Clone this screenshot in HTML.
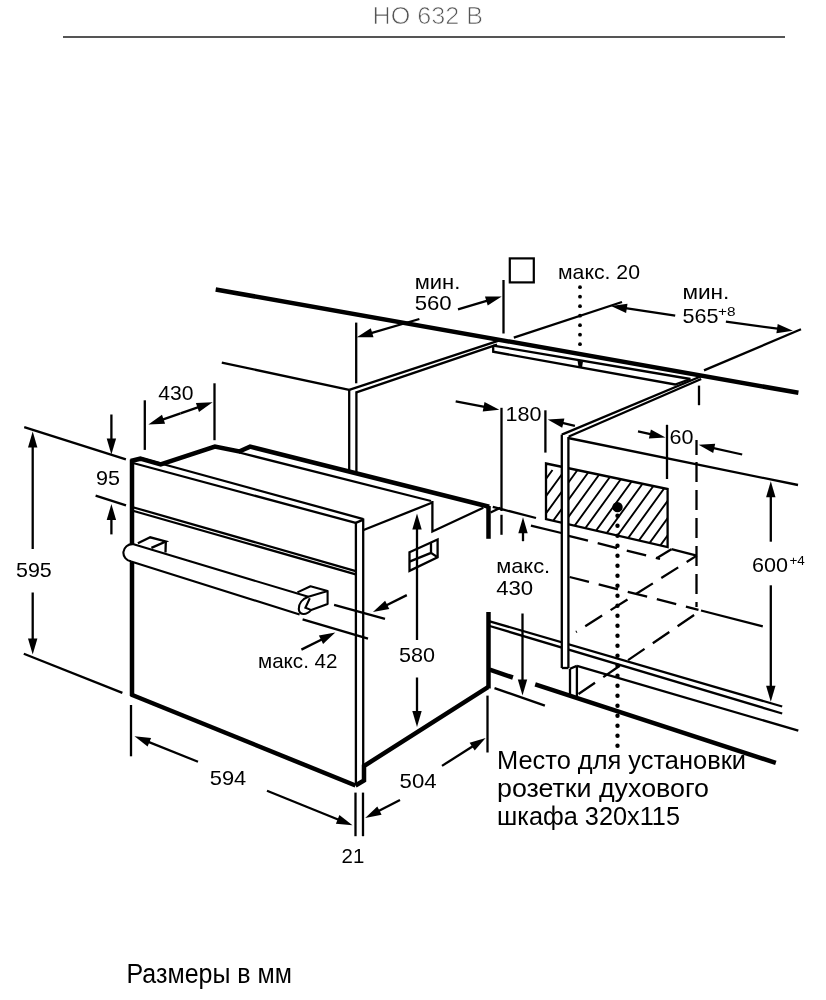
<!DOCTYPE html>
<html><head><meta charset="utf-8"><style>
html,body{margin:0;padding:0;background:#fff;}
svg{display:block;will-change:transform;}
text{font-family:"Liberation Sans",sans-serif;}
</style></head><body>
<svg width="826" height="1000" viewBox="0 0 826 1000">
<rect width="826" height="1000" fill="#fff"/>
<text x="372.5" y="23.6" font-size="23" fill="#555" textLength="110.5" lengthAdjust="spacingAndGlyphs" stroke="#fff" stroke-width="0.7">HO 632 B</text>
<line x1="63" y1="37" x2="785" y2="37" stroke="#555" stroke-width="2" />
<line x1="215.7" y1="289.5" x2="798.4" y2="392.8" stroke="#000" stroke-width="4.5" />
<line x1="513.8" y1="337.6" x2="622" y2="302" stroke="#000" stroke-width="2.3" />
<line x1="704" y1="370.4" x2="801" y2="329.3" stroke="#000" stroke-width="2.3" />
<line x1="356.2" y1="322.6" x2="356.2" y2="383.3" stroke="#000" stroke-width="2.3" />
<line x1="503.5" y1="280" x2="503.5" y2="333.5" stroke="#000" stroke-width="2.3" />
<line x1="419.4" y1="319" x2="366.01434969296497" y2="334.60634825269557" stroke="#000" stroke-width="2.3" />
<polygon points="356.8,337.3 370.8,328.3 373.5,337.3" fill="#000"/>
<line x1="458" y1="309.3" x2="492.48707557842044" y2="299.19852248503935" stroke="#000" stroke-width="2.3" />
<polygon points="501.7,296.5 487.7,305.5 485.0,296.5" fill="#000"/>
<text x="414.7" y="288.7" font-size="21" fill="#000" textLength="45.6" lengthAdjust="spacingAndGlyphs" >мин.</text>
<text x="414.7" y="310" font-size="21" fill="#000" textLength="37.0" lengthAdjust="spacingAndGlyphs" >560</text>
<rect x="509.8" y="258.4" width="24" height="24" fill="none" stroke="#000" stroke-width="2.2"/>
<text x="558.0" y="278.5" font-size="21" fill="#000" textLength="82.0" lengthAdjust="spacingAndGlyphs" >макс. 20</text>
<circle cx="580" cy="287.2" r="1.9" fill="#000"/>
<circle cx="580" cy="296.7" r="1.9" fill="#000"/>
<circle cx="580" cy="306.2" r="1.9" fill="#000"/>
<circle cx="580" cy="315.7" r="1.9" fill="#000"/>
<circle cx="580" cy="325.2" r="1.9" fill="#000"/>
<circle cx="580" cy="334.7" r="1.9" fill="#000"/>
<circle cx="580" cy="344.2" r="1.9" fill="#000"/>
<polygon points="577.5,360.5 583,361.5 582,367.5 578.5,367" fill="#000"/>
<line x1="675.2" y1="315.7" x2="620.4922652802743" y2="307.43418961399783" stroke="#000" stroke-width="2.3" />
<polygon points="611.0,306.0 627.5,303.7 626.1,313.0" fill="#000"/>
<line x1="725.9" y1="321.7" x2="783.385456945261" y2="329.4219270523485" stroke="#000" stroke-width="2.3" />
<polygon points="792.9,330.7 776.4,333.2 777.7,323.9" fill="#000"/>
<text x="682.4" y="299.2" font-size="21" fill="#000" textLength="47.0" lengthAdjust="spacingAndGlyphs" >мин.</text>
<text x="682.4" y="322.5" font-size="21" fill="#000" textLength="36.0" lengthAdjust="spacingAndGlyphs" >565</text>
<text x="718" y="315.7" font-size="13" fill="#000" textLength="17.5" lengthAdjust="spacingAndGlyphs" >+8</text>
<polyline points="493.2,345.6 493.2,351.7 675.1,384.5 690.4,379" fill="none" stroke="#000" stroke-width="2.3" stroke-linejoin="miter" />
<line x1="493.2" y1="345.6" x2="690.4" y2="379" stroke="#000" stroke-width="2.3" />
<line x1="221.8" y1="362.6" x2="349.2" y2="389.9" stroke="#000" stroke-width="2.3" />
<line x1="349.2" y1="389.9" x2="499.5" y2="340.4" stroke="#000" stroke-width="2.3" />
<line x1="356.4" y1="392.4" x2="497" y2="344.6" stroke="#000" stroke-width="2.3" />
<line x1="349.2" y1="389.9" x2="349.2" y2="472" stroke="#000" stroke-width="2.3" />
<line x1="356.4" y1="391.3" x2="356.4" y2="472" stroke="#000" stroke-width="2.3" />
<line x1="144.8" y1="400.3" x2="144.8" y2="449.9" stroke="#000" stroke-width="2.3" />
<line x1="214.5" y1="383.3" x2="214.5" y2="440.2" stroke="#000" stroke-width="2.3" />
<line x1="180.5" y1="413.3" x2="157.46411750074967" y2="421.3374418688973" stroke="#000" stroke-width="2.3" />
<polygon points="148.4,424.5 162.0,414.8 165.1,423.7" fill="#000"/>
<line x1="180.5" y1="413.3" x2="203.527126052889" y2="405.3373489349823" stroke="#000" stroke-width="2.3" />
<polygon points="212.6,402.2 199.0,411.9 195.9,403.0" fill="#000"/>
<text x="158.3" y="400.3" font-size="21" fill="#000" textLength="35.2" lengthAdjust="spacingAndGlyphs" >430</text>
<line x1="111.4" y1="414.5" x2="111.4" y2="444.9" stroke="#000" stroke-width="2.3" />
<polygon points="111.4,454.5 106.7,438.5 116.1,438.5" fill="#000"/>
<line x1="24.2" y1="427.1" x2="125.9" y2="459.3" stroke="#000" stroke-width="2.3" />
<text x="95.9" y="484.7" font-size="21" fill="#000" textLength="24.0" lengthAdjust="spacingAndGlyphs" >95</text>
<line x1="95.6" y1="495.6" x2="126" y2="505.3" stroke="#000" stroke-width="2.3" />
<line x1="111.4" y1="534.4" x2="111.4" y2="513.6" stroke="#000" stroke-width="2.3" />
<polygon points="111.4,504.0 116.1,520.0 106.7,520.0" fill="#000"/>
<line x1="32.7" y1="549" x2="32.7" y2="441.1" stroke="#000" stroke-width="2.3" />
<polygon points="32.7,431.5 37.4,447.5 28.0,447.5" fill="#000"/>
<text x="16.0" y="576.7" font-size="21" fill="#000" textLength="35.8" lengthAdjust="spacingAndGlyphs" >595</text>
<line x1="32.7" y1="592.5" x2="32.7" y2="644.9" stroke="#000" stroke-width="2.3" />
<polygon points="32.7,654.5 28.0,638.5 37.4,638.5" fill="#000"/>
<line x1="23.8" y1="653.8" x2="122.4" y2="692.9" stroke="#000" stroke-width="2.3" />
<polyline points="130.7,461 140.3,458.7 160.7,464.5 214.9,446.5 239.2,451.5 250.1,446.6 489.2,506.8" fill="none" stroke="#000" stroke-width="4.5" stroke-linejoin="miter" />
<line x1="132" y1="459.5" x2="132" y2="696" stroke="#000" stroke-width="4.5" />
<line x1="131" y1="694.5" x2="355.5" y2="785.5" stroke="#000" stroke-width="4.5" />
<polyline points="355.5,785.5 364,780.5 364,766 488,687.2" fill="none" stroke="#000" stroke-width="4.5" stroke-linejoin="miter" />
<line x1="488.5" y1="506" x2="488.5" y2="538.8" stroke="#000" stroke-width="4.5" />
<line x1="488.5" y1="612" x2="488.5" y2="688.5" stroke="#000" stroke-width="4.5" />
<line x1="140.7" y1="458" x2="363.4" y2="519.1" stroke="#000" stroke-width="2.3" />
<line x1="133" y1="463" x2="355.7" y2="522.9" stroke="#000" stroke-width="2.3" />
<line x1="355.7" y1="522.9" x2="363.4" y2="519.6" stroke="#000" stroke-width="2.3" />
<line x1="239.2" y1="452.5" x2="431" y2="501" stroke="#000" stroke-width="2.3" />
<polyline points="432.4,501 432.4,531.5 483.3,507.8" fill="none" stroke="#000" stroke-width="2.3" stroke-linejoin="miter" />
<line x1="490.5" y1="512.5" x2="500.5" y2="507.8" stroke="#000" stroke-width="2.3" />
<line x1="363.6" y1="530" x2="432.4" y2="502.5" stroke="#000" stroke-width="2.3" />
<line x1="355.9" y1="522" x2="355.9" y2="784" stroke="#000" stroke-width="2.3" />
<line x1="363.2" y1="518.5" x2="363.2" y2="778" stroke="#000" stroke-width="2.3" />
<line x1="132" y1="507" x2="356.6" y2="571.3" stroke="#000" stroke-width="2.3" />
<line x1="132" y1="510.5" x2="356.6" y2="574.6" stroke="#000" stroke-width="2.3" />
<path d="M132.8,544.1 L308.3,596.8 L299.6,614.6 L131.1,561.4 A9,8.7 0 0 1 132.8,544.1 Z" fill="#fff" stroke="none"/>
<path d="M132.8,544.1 L308.3,596.8 M131.1,561.4 L299.6,614.6 M132.8,544.1 A9,8.7 0 0 0 131.1,561.4" fill="none" stroke="#000" stroke-width="2.1"/>
<polyline points="137.9,543.2 150.2,537.3 165.8,541.5 151.4,547.9" fill="none" stroke="#000" stroke-width="2.3" stroke-linejoin="miter" />
<line x1="165.8" y1="541.5" x2="165.5" y2="552.5" stroke="#000" stroke-width="2.3" />
<path d="M297.4,592.4 L310.5,586.3 L327.6,591 L327.6,604 L311.2,609.9 C306,616 299,615 298.8,609 C298.6,604 302,599 308.3,596.8 L327.6,591" fill="#fff" stroke="#000" stroke-width="2.1" stroke-linejoin="round"/>
<path d="M309.8,598.2 L305.4,607.7 L310.8,609.9" fill="none" stroke="#000" stroke-width="2.1"/>
<polygon points="409.5,552.3 437.6,539.5 437.6,557.2 409.5,570.8" fill="none" stroke="#000" stroke-width="2.3" stroke-linejoin="miter" />
<polyline points="409.5,561.6 431,552.9 431,543.1" fill="none" stroke="#000" stroke-width="2.3" stroke-linejoin="miter" />
<line x1="431" y1="552.9" x2="437.6" y2="557.2" stroke="#000" stroke-width="2.3" />
<line x1="417" y1="640" x2="417.0" y2="523.2" stroke="#000" stroke-width="2.3" />
<polygon points="417.0,513.6 421.7,529.6 412.3,529.6" fill="#000"/>
<text x="399.0" y="662" font-size="21" fill="#000" textLength="36.0" lengthAdjust="spacingAndGlyphs" >580</text>
<line x1="417" y1="677.5" x2="417.0" y2="717.4" stroke="#000" stroke-width="2.3" />
<polygon points="417.0,727.0 412.3,711.0 421.7,711.0" fill="#000"/>
<line x1="334.1" y1="604.8" x2="385" y2="618.8" stroke="#000" stroke-width="2.3" />
<line x1="406.8" y1="595.1" x2="381.4915638184364" y2="607.7168900138179" stroke="#000" stroke-width="2.3" />
<polygon points="372.9,612.0 385.1,600.7 389.3,609.1" fill="#000"/>
<line x1="302.6" y1="619.3" x2="368" y2="638.7" stroke="#000" stroke-width="2.3" />
<line x1="301.4" y1="649.6" x2="326.71856772857274" y2="636.903373115465" stroke="#000" stroke-width="2.3" />
<polygon points="335.3,632.6 323.1,644.0 318.9,635.6" fill="#000"/>
<text x="258.0" y="667.7" font-size="21" fill="#000" textLength="79.5" lengthAdjust="spacingAndGlyphs" >макс. 42</text>
<line x1="131" y1="705" x2="131" y2="756.3" stroke="#000" stroke-width="2.3" />
<line x1="198" y1="761.7" x2="143.41337623249848" y2="739.8653504929994" stroke="#000" stroke-width="2.3" />
<polygon points="134.5,736.3 151.1,737.9 147.6,746.6" fill="#000"/>
<text x="209.8" y="785.3" font-size="21" fill="#000" textLength="36.5" lengthAdjust="spacingAndGlyphs" >594</text>
<line x1="267" y1="790.8" x2="343.597435847394" y2="821.7077372717554" stroke="#000" stroke-width="2.3" />
<polygon points="352.5,825.3 335.9,823.7 339.4,815.0" fill="#000"/>
<line x1="355.5" y1="792.6" x2="355.5" y2="836.2" stroke="#000" stroke-width="2.3" />
<line x1="363" y1="792.6" x2="363" y2="836.2" stroke="#000" stroke-width="2.3" />
<line x1="400" y1="800" x2="373.7268893742971" y2="813.5895399788119" stroke="#000" stroke-width="2.3" />
<polygon points="365.2,818.0 377.3,806.5 381.6,814.8" fill="#000"/>
<text x="341.6" y="863.4" font-size="21" fill="#000" textLength="22.7" lengthAdjust="spacingAndGlyphs" >21</text>
<line x1="487.5" y1="695.6" x2="487.5" y2="752.5" stroke="#000" stroke-width="2.3" />
<line x1="442" y1="765.9" x2="477.5138577499309" y2="743.1743891921315" stroke="#000" stroke-width="2.3" />
<polygon points="485.6,738.0 474.7,750.6 469.6,742.7" fill="#000"/>
<text x="399.6" y="787.6" font-size="21" fill="#000" textLength="37.0" lengthAdjust="spacingAndGlyphs" >504</text>
<line x1="501.5" y1="407.8" x2="501.5" y2="511" stroke="#000" stroke-width="2.3" />
<line x1="501.5" y1="514.8" x2="501.5" y2="536" stroke="#000" stroke-width="2.3" stroke-dasharray="20 4" stroke-dashoffset="0"/>
<line x1="545.4" y1="410.3" x2="545.4" y2="452.6" stroke="#000" stroke-width="2.3" />
<line x1="455.7" y1="401.3" x2="489.87739320439107" y2="407.9630239045258" stroke="#000" stroke-width="2.3" />
<polygon points="499.3,409.8 482.7,411.4 484.5,402.1" fill="#000"/>
<line x1="574.9" y1="425.9" x2="557.0448048160024" y2="421.6987776037653" stroke="#000" stroke-width="2.3" />
<polygon points="547.7,419.5 564.4,418.6 562.2,427.7" fill="#000"/>
<text x="505.5" y="420.7" font-size="21" fill="#000" textLength="36.0" lengthAdjust="spacingAndGlyphs" >180</text>
<line x1="492.8" y1="506.9" x2="536" y2="518" stroke="#000" stroke-width="2.3" />
<line x1="523" y1="541.2" x2="523.0" y2="526.8000000000001" stroke="#000" stroke-width="2.3" />
<polygon points="523.0,517.2 527.7,533.2 518.3,533.2" fill="#000"/>
<text x="496.2" y="572.5" font-size="21" fill="#000" textLength="54.0" lengthAdjust="spacingAndGlyphs" >макс.</text>
<text x="496.2" y="594.8" font-size="21" fill="#000" textLength="37.0" lengthAdjust="spacingAndGlyphs" >430</text>
<line x1="522.5" y1="613.5" x2="522.5" y2="685.9" stroke="#000" stroke-width="2.3" />
<polygon points="522.5,695.5 517.8,679.5 527.2,679.5" fill="#000"/>
<line x1="494.5" y1="688.1" x2="544.9" y2="705.6" stroke="#000" stroke-width="2.3" />
<line x1="489.7" y1="621.3" x2="782.2" y2="706.5" stroke="#000" stroke-width="2.3" />
<line x1="489.7" y1="626" x2="782.2" y2="713.5" stroke="#000" stroke-width="2.3" />
<line x1="577" y1="665.9" x2="798.3" y2="730.7" stroke="#000" stroke-width="2.3" />
<line x1="489.7" y1="669.7" x2="512.9" y2="677.5" stroke="#000" stroke-width="4.5" />
<line x1="535.2" y1="684.3" x2="775.8" y2="762.9" stroke="#000" stroke-width="4.5" />
<clipPath id="hc"><polygon points="546,463.5 667.6,489 667.6,547 546,519.2"/></clipPath>
<g clip-path="url(#hc)"><path d="M417.5,570 L490.0,470 M430.0,570 L502.5,470 M442.5,570 L515.0,470 M455.0,570 L527.5,470 M467.5,570 L540.0,470 M480.0,570 L552.5,470 M492.5,570 L565.0,470 M505.0,570 L577.5,470 M517.5,570 L590.0,470 M530.0,570 L602.5,470 M542.5,570 L615.0,470 M555.0,570 L627.5,470 M567.5,570 L640.0,470 M580.0,570 L652.5,470 M592.5,570 L665.0,470 M605.0,570 L677.5,470 M617.5,570 L690.0,470 M630.0,570 L702.5,470 M642.5,570 L715.0,470 M655.0,570 L727.5,470 M667.5,570 L740.0,470 M680.0,570 L752.5,470 M692.5,570 L765.0,470 M705.0,570 L777.5,470 M717.5,570 L790.0,470 M730.0,570 L802.5,470 M742.5,570 L815.0,470 M755.0,570 L827.5,470 M767.5,570 L840.0,470 M780.0,570 L852.5,470 M792.5,570 L865.0,470 M805.0,570 L877.5,470 M817.5,570 L890.0,470 M830.0,570 L902.5,470 M842.5,570 L915.0,470" stroke="#000" stroke-width="1.9"/></g>
<polygon points="546,463.5 667.6,489 667.6,547 546,519.2" fill="none" stroke="#000" stroke-width="2.3" stroke-linejoin="miter" />
<circle cx="617.5" cy="507.1" r="5.2" fill="#000"/>
<circle cx="617.5" cy="515.8" r="2.2" fill="#000"/>
<circle cx="617.5" cy="525.8" r="2.2" fill="#000"/>
<circle cx="617.5" cy="535.8" r="2.2" fill="#000"/>
<circle cx="617.5" cy="545.8" r="2.2" fill="#000"/>
<circle cx="617.5" cy="555.8" r="2.2" fill="#000"/>
<circle cx="617.5" cy="565.8" r="2.2" fill="#000"/>
<circle cx="617.5" cy="575.8" r="2.2" fill="#000"/>
<circle cx="617.5" cy="585.8" r="2.2" fill="#000"/>
<circle cx="617.5" cy="595.8" r="2.2" fill="#000"/>
<circle cx="617.5" cy="605.8" r="2.2" fill="#000"/>
<circle cx="617.5" cy="615.8" r="2.2" fill="#000"/>
<circle cx="617.5" cy="625.8" r="2.2" fill="#000"/>
<circle cx="617.5" cy="635.8" r="2.2" fill="#000"/>
<circle cx="617.5" cy="645.8" r="2.2" fill="#000"/>
<circle cx="617.5" cy="655.8" r="2.2" fill="#000"/>
<circle cx="617.5" cy="665.8" r="2.2" fill="#000"/>
<circle cx="617.5" cy="675.8" r="2.2" fill="#000"/>
<circle cx="617.5" cy="685.8" r="2.2" fill="#000"/>
<circle cx="617.5" cy="695.8" r="2.2" fill="#000"/>
<circle cx="617.5" cy="705.8" r="2.2" fill="#000"/>
<circle cx="617.5" cy="715.8" r="2.2" fill="#000"/>
<circle cx="617.5" cy="725.8" r="2.2" fill="#000"/>
<circle cx="617.5" cy="735.8" r="2.2" fill="#000"/>
<circle cx="617.5" cy="745.8" r="2.2" fill="#000"/>
<polyline points="561.8,434.6 702.3,375.8" fill="none" stroke="#000" stroke-width="2.3" stroke-linejoin="miter" />
<line x1="568.3" y1="436.8" x2="701.2" y2="379" stroke="#000" stroke-width="2.3" />
<rect x="561.8" y="435" width="6.6" height="233" fill="#fff"/>
<line x1="561.8" y1="434.6" x2="561.8" y2="668" stroke="#000" stroke-width="2.3" />
<line x1="568.4" y1="437" x2="568.4" y2="668" stroke="#000" stroke-width="2.3" />
<line x1="561.8" y1="668" x2="568.4" y2="668" stroke="#000" stroke-width="2.3" />
<line x1="568" y1="438" x2="798" y2="485" stroke="#000" stroke-width="2.3" />
<line x1="699" y1="385.6" x2="699" y2="405.2" stroke="#000" stroke-width="2.3" />
<line x1="667" y1="424.8" x2="667" y2="479" stroke="#000" stroke-width="2.3" />
<line x1="638" y1="431.3" x2="656.1350588448004" y2="435.38863144864587" stroke="#000" stroke-width="2.3" />
<polygon points="665.5,437.5 648.9,438.6 650.9,429.4" fill="#000"/>
<text x="669.6" y="444.3" font-size="21" fill="#000" textLength="24.0" lengthAdjust="spacingAndGlyphs" >60</text>
<line x1="696.5" y1="440" x2="696.5" y2="455" stroke="#000" stroke-width="2.3" />
<line x1="696.5" y1="462" x2="696.5" y2="607" stroke="#000" stroke-width="2.3" stroke-dasharray="20 8" stroke-dashoffset="0"/>
<line x1="742.2" y1="454.5" x2="707.9708897869473" y2="446.88480804893095" stroke="#000" stroke-width="2.3" />
<polygon points="698.6,444.8 715.2,443.7 713.2,452.9" fill="#000"/>
<line x1="770.8" y1="541.7" x2="770.8" y2="490.8" stroke="#000" stroke-width="2.3" />
<polygon points="770.8,481.2 775.5,497.2 766.1,497.2" fill="#000"/>
<text x="752.0" y="572" font-size="21" fill="#000" textLength="36.0" lengthAdjust="spacingAndGlyphs" >600</text>
<text x="789.4" y="564.7" font-size="13" fill="#000" textLength="15.4" lengthAdjust="spacingAndGlyphs" >+4</text>
<line x1="770.8" y1="585.3" x2="770.8" y2="692.1" stroke="#000" stroke-width="2.3" />
<polygon points="770.8,701.7 766.1,685.7 775.5,685.7" fill="#000"/>
<line x1="530.9" y1="525.6" x2="561.4" y2="533" stroke="#000" stroke-width="2.3" />
<line x1="568.6" y1="535.8" x2="660" y2="559" stroke="#000" stroke-width="2.3" stroke-dasharray="20 10" stroke-dashoffset="0"/>
<line x1="657" y1="558.1" x2="671.4" y2="549.2" stroke="#000" stroke-width="2.3" />
<line x1="671.4" y1="549.2" x2="696.8" y2="555.6" stroke="#000" stroke-width="2.3" />
<line x1="696.8" y1="555.6" x2="576" y2="632" stroke="#000" stroke-width="2.3" stroke-dasharray="20 10" stroke-dashoffset="8"/>
<line x1="569.6" y1="577" x2="698.5" y2="609.8" stroke="#000" stroke-width="2.3" stroke-dasharray="20 10" stroke-dashoffset="0"/>
<line x1="701" y1="610.5" x2="762.8" y2="626.4" stroke="#000" stroke-width="2.3" />
<line x1="578.5" y1="694" x2="696.9" y2="613.1" stroke="#000" stroke-width="2.3" stroke-dasharray="20 10" stroke-dashoffset="0"/>
<line x1="570" y1="668.8" x2="570" y2="695" stroke="#000" stroke-width="2.3" />
<line x1="576.9" y1="665.9" x2="576.9" y2="697.8" stroke="#000" stroke-width="2.3" />
<line x1="570" y1="668.8" x2="576.9" y2="665.9" stroke="#000" stroke-width="2.3" />
<text x="497" y="769.3" font-size="25.5" fill="#000" textLength="249.0" lengthAdjust="spacingAndGlyphs" >Место для установки</text>
<text x="497" y="796.8" font-size="25.5" fill="#000" textLength="212.0" lengthAdjust="spacingAndGlyphs" >розетки духового</text>
<text x="497" y="825" font-size="25.5" fill="#000" textLength="183.0" lengthAdjust="spacingAndGlyphs" >шкафа 320x115</text>
<text x="126.5" y="983.3" font-size="27" fill="#000" textLength="165.5" lengthAdjust="spacingAndGlyphs" >Размеры в мм</text>
</svg>
</body></html>
